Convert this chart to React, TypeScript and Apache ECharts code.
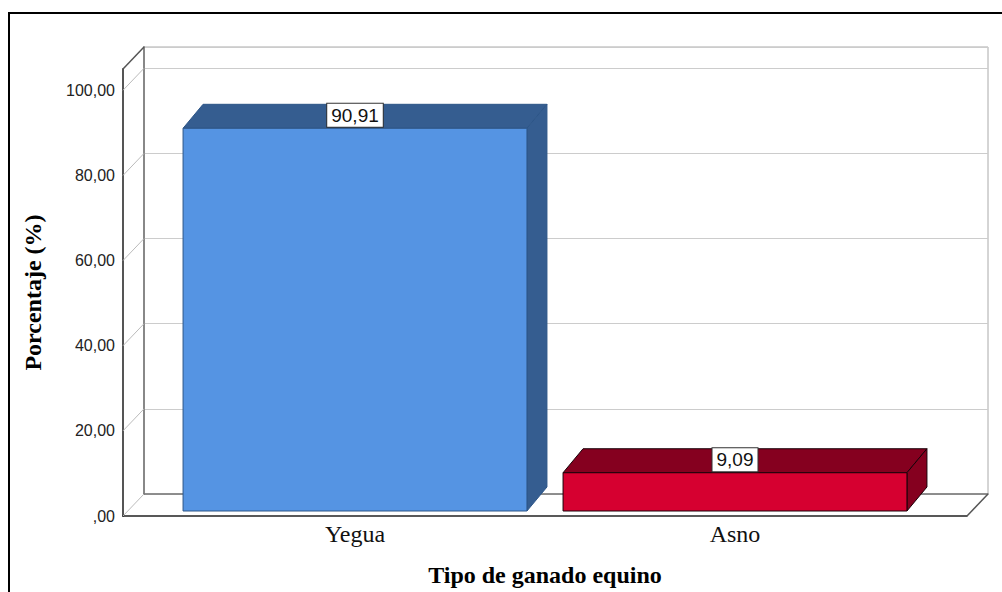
import React, { useEffect, useRef } from 'react';
import * as echarts from 'echarts';

const categories = ['Yegua', 'Asno'];
const percentages = [90.91, 9.09];
const yTicks = [0, 20, 40, 60, 80, 100];
const frontColors = ['#5594e3', '#d60030'];
const topColors = ['#355d90', '#85001f'];
const edgeColors = ['#2d5688', '#1a0008'];

const Y_MAX = 105;
const DX = 21;
const DY = 22;
const BDX = 20;
const BDY = 24;

const fmt = (v: number) => (v === 0 ? ',00' : v.toFixed(2).replace('.', ','));

export default function App() {
  const ref = useRef<HTMLDivElement>(null);
  useEffect(() => {
    if (!ref.current) return;
    const chart = echarts.init(ref.current, undefined, { renderer: 'svg' });
    const serif = '"Liberation Serif", "Times New Roman", serif';
    const sans = '"Liberation Sans", Arial, sans-serif';
    chart.setOption({
      animation: false,
      backgroundColor: '#fff',
      graphic: [
        {
          type: 'rect',
          silent: true,
          z: 100,
          shape: { x: 9, y: 13, width: 1100, height: 700 },
          style: { fill: 'none', stroke: '#000', lineWidth: 2 },
        },
      ],
      grid: [
        { left: 123, right: 35, top: 69, bottom: 76 },
        { left: 144, right: 14, top: 47, bottom: 98, show: true, borderColor: '#aaa', borderWidth: 1, backgroundColor: 'transparent' },
        { left: 165, right: 77, top: 69, bottom: 76 },
      ],
      xAxis: [
        {
          gridIndex: 0, type: 'value', min: 0, max: 1,
          axisLine: { show: true, lineStyle: { color: '#222', width: 1.5 } },
          axisTick: { show: false }, axisLabel: { show: false }, splitLine: { show: false },
        },
        {
          gridIndex: 1, type: 'value', min: 0, max: 1, position: 'top',
          axisLine: { show: true, lineStyle: { color: '#777', width: 1.5 } },
          axisTick: { show: false }, axisLabel: { show: false }, splitLine: { show: false },
        },
        {
          gridIndex: 2, type: 'category', data: categories,
          axisLine: { show: false }, axisTick: { show: false },
          axisLabel: { margin: 11, fontFamily: serif, fontSize: 24, color: '#111' },
          name: 'Tipo de ganado equino', nameLocation: 'middle', nameGap: 52,
          nameTextStyle: { fontFamily: serif, fontSize: 24, fontWeight: 'bold', color: '#000' },
        },
      ],
      yAxis: [
        {
          gridIndex: 0, type: 'value', min: 0, max: Y_MAX, interval: 20,
          axisLine: { show: true, lineStyle: { color: '#555', width: 2 } },
          axisTick: { show: false }, splitLine: { show: false },
          axisLabel: {
            margin: 8, fontFamily: sans, fontSize: 16, color: '#222',
            formatter: (v: number) => (yTicks.includes(v) ? fmt(v) : ''),
          },
          name: 'Porcentaje (%)', nameLocation: 'middle', nameGap: 78,
          nameTextStyle: { fontFamily: serif, fontSize: 24, fontWeight: 'bold', color: '#000' },
        },
        {
          gridIndex: 1, type: 'value', min: 0, max: Y_MAX, interval: 20, position: 'right',
          axisLine: { show: true, lineStyle: { color: '#888', width: 2 } },
          axisTick: { show: false }, axisLabel: { show: false },
          splitLine: { show: true, lineStyle: { color: '#ccc', width: 1 } },
        },
        {
          gridIndex: 2, type: 'value', min: 0, max: Y_MAX, show: false,
        },
      ],
      series: [
        {
          type: 'custom', name: 'tickDiagonals', xAxisIndex: 0, yAxisIndex: 0, silent: true,
          data: yTicks.map((v) => [0, v]),
          renderItem: (params: any, api: any) => {
            const p = api.coord([0, api.value(1)]);
            return {
              type: 'line',
              shape: { x1: p[0], y1: p[1], x2: p[0] + DX, y2: p[1] - DY },
              style: { stroke: '#bbb', lineWidth: 1 },
            };
          },
        },
        {
          type: 'custom', name: 'frameEdges', xAxisIndex: 0, yAxisIndex: 0, silent: true,
          data: [[0, Y_MAX], [1, 0]],
          renderItem: (params: any, api: any) => {
            const p = api.coord([api.value(0), api.value(1)]);
            return {
              type: 'line',
              shape: { x1: p[0], y1: p[1], x2: p[0] + DX, y2: p[1] - DY },
              style: { stroke: '#555', lineWidth: 1.5 },
            };
          },
        },
        {
          type: 'custom', name: 'Porcentaje', xAxisIndex: 2, yAxisIndex: 2,
          data: percentages.map((v, i) => [i, v]),
          renderItem: (params: any, api: any) => {
            const i = api.value(0);
            const v = api.value(1);
            const top = api.coord([i, v]);
            const base = api.coord([i, 0]);
            const w = api.size([1, 0])[0] * 0.905;
            const x0 = top[0] - w / 2;
            const x1 = top[0] + w / 2;
            const yT = top[1];
            const yB = base[1];
            const idx = params.dataIndex;
            const edge = edgeColors[idx];
            return {
              type: 'group',
              children: [
                {
                  type: 'polygon',
                  shape: { points: [[x0, yT], [x0 + BDX, yT - BDY], [x1 + BDX, yT - BDY], [x1, yT]] },
                  style: { fill: topColors[idx], stroke: edge, lineWidth: 1 },
                },
                {
                  type: 'polygon',
                  shape: { points: [[x1, yT], [x1 + BDX, yT - BDY], [x1 + BDX, yB - BDY], [x1, yB]] },
                  style: { fill: topColors[idx], stroke: edge, lineWidth: 1 },
                },
                {
                  type: 'rect',
                  shape: { x: x0, y: yT, width: w, height: yB - yT },
                  style: { fill: frontColors[idx], stroke: edge, lineWidth: 1 },
                },
                {
                  type: 'text',
                  style: {
                    text: fmt(v), x: top[0], y: yT - 13,
                    align: 'center', verticalAlign: 'middle',
                    textAlign: 'center', textVerticalAlign: 'middle',
                    fill: '#111', fontFamily: sans, fontSize: 19,
                    backgroundColor: '#fff', borderColor: '#333', borderWidth: 1,
                    padding: [2, 4],
                  },
                },
              ],
            };
          },
        },
      ],
    });
    return () => chart.dispose();
  }, []);
  return <div ref={ref} style={{ position: 'absolute', left: 0, top: 0, width: 1002, height: 592 }} />;
}
